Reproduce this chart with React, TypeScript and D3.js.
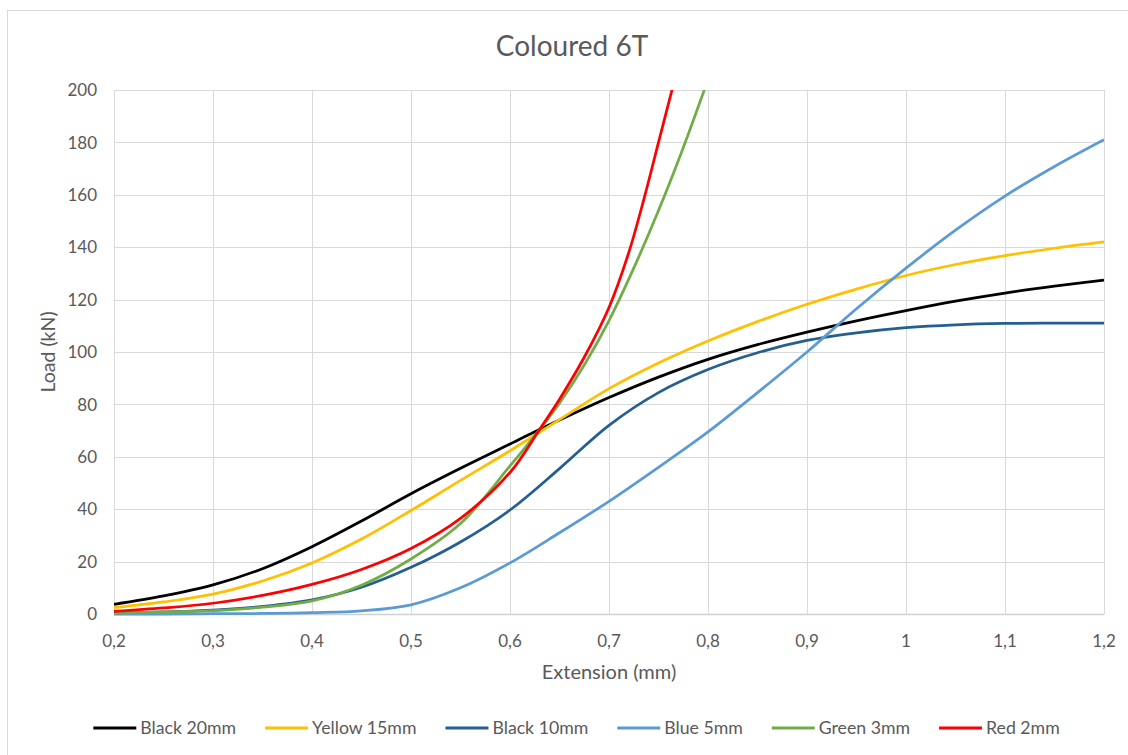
import React, { useRef, useEffect } from "react";
import * as d3 from "d3";

// sample extensions (mm) shared by the four slower curves
const extCommon = [
  0.2, 0.25, 0.3, 0.35, 0.4, 0.45, 0.5, 0.55, 0.6, 0.65, 0.7, 0.75, 0.8, 0.85,
  0.9, 0.95, 1.0, 1.05, 1.1, 1.15, 1.2,
];
const loadBlack20 = [
  3.7, 6.9, 11.1, 17.3, 25.7, 35.5, 45.9, 55.6, 64.9, 74, 82.6, 90.4, 97.2,
  102.8, 107.6, 111.9, 115.8, 119.4, 122.5, 125.1, 127.4,
];
const loadYellow15 = [
  2.4, 4.6, 7.6, 12.6, 19.5, 28.6, 39.5, 51, 62.3, 74.2, 86, 95.8, 104.2, 111.6,
  118.2, 124, 129.2, 133.4, 136.8, 139.6, 142,
];
const loadBlack10 = [
  0.3, 0.8, 1.5, 2.9, 5.4, 10.2, 17.8, 27.5, 39.7, 55.5, 72, 84.5, 93.3, 99.7,
  104.4, 107.3, 109.3, 110.4, 110.9, 111, 111,
];
const loadBlue5 = [
  0, 0, 0.1, 0.2, 0.5, 1.2, 3.5, 10, 19.5, 31, 43, 56, 69.5, 84.5, 100, 116.5,
  132, 146.5, 159.5, 170.8, 181,
];

// the two stiff samples run off the top of the chart
const extGreen3 = [
  0.2, 0.25, 0.3, 0.35, 0.4, 0.45, 0.5, 0.55, 0.6, 0.63, 0.65, 0.675, 0.7,
  0.725, 0.75, 0.775, 0.8,
];
const loadGreen3 = [
  0.3, 0.8, 1.3, 2.6, 5, 11, 21, 34.5, 56.5, 70.5, 80.5, 95, 112, 132, 154, 178,
  204,
];
const extRed2 = [
  0.2, 0.25, 0.3, 0.35, 0.4, 0.45, 0.5, 0.55, 0.6, 0.63, 0.65, 0.675, 0.7,
  0.72, 0.735, 0.75, 0.765,
];
const loadRed2 = [
  1.0, 2.3, 4.1, 7.1, 11.3, 17, 25, 36.5, 54, 70.5, 82, 98, 117, 138, 158, 180,
  202,
];

const seriesNames = [
  "Black 20mm",
  "Yellow 15mm",
  "Black 10mm",
  "Blue 5mm",
  "Green 3mm",
  "Red 2mm",
];
const seriesColors = ["#000000", "#FFC000", "#255E91", "#5B9BD5", "#70AD47", "#FF0000"];

const xTicks = [0.2, 0.3, 0.4, 0.5, 0.6, 0.7, 0.8, 0.9, 1, 1.1, 1.2];
const yTicks = [0, 20, 40, 60, 80, 100, 120, 140, 160, 180, 200];

const App = () => {
  const svgRef = useRef<SVGSVGElement>(null);

  useEffect(() => {
    const svg = d3.select(svgRef.current);
    svg.selectAll("*").remove();

    const plot = { left: 114, right: 1104, top: 90, bottom: 614 };
    const font = "Lato, 'Open Sans', sans-serif";
    const textGrey = "#595959";
    const gridGrey = "#d9d9d9";

    const x = d3.scaleLinear().domain([0.2, 1.2]).range([plot.left, plot.right]);
    const y = d3.scaleLinear().domain([0, 200]).range([plot.bottom, plot.top]);

    svg
      .append("rect")
      .attr("x", 7.5)
      .attr("y", 10.5)
      .attr("width", 1135)
      .attr("height", 760)
      .attr("fill", "white")
      .attr("stroke", gridGrey);

    // grid
    svg
      .append("g")
      .selectAll("line")
      .data(yTicks.slice(1))
      .join("line")
      .attr("x1", plot.left)
      .attr("x2", plot.right)
      .attr("y1", (d) => Math.round(y(d)) + 0.5)
      .attr("y2", (d) => Math.round(y(d)) + 0.5)
      .attr("stroke", gridGrey);
    svg
      .append("g")
      .selectAll("line")
      .data(xTicks)
      .join("line")
      .attr("x1", (d) => Math.round(x(d)) + 0.5)
      .attr("x2", (d) => Math.round(x(d)) + 0.5)
      .attr("y1", plot.top)
      .attr("y2", plot.bottom)
      .attr("stroke", gridGrey);
    svg
      .append("line")
      .attr("x1", plot.left)
      .attr("x2", plot.right)
      .attr("y1", y(0) + 0.5)
      .attr("y2", y(0) + 0.5)
      .attr("stroke", "#d0d0d0")
      .attr("stroke-width", 1.5);

    // tick labels
    svg
      .append("g")
      .selectAll("text")
      .data(yTicks)
      .join("text")
      .attr("x", plot.left - 17)
      .attr("y", (d) => y(d))
      .attr("dy", "0.36em")
      .attr("text-anchor", "end")
      .style("font-family", font)
      .style("font-size", "17px")
      .style("fill", textGrey)
      .text((d) => d);
    svg
      .append("g")
      .selectAll("text")
      .data(xTicks)
      .join("text")
      .attr("x", (d) => x(d))
      .attr("y", plot.bottom + 33)
      .attr("text-anchor", "middle")
      .style("font-family", font)
      .style("font-size", "17px")
      .style("fill", textGrey)
      .text((d) => String(d).replace(".", ","));

    // titles
    svg
      .append("text")
      .attr("x", 572)
      .attr("y", 56)
      .attr("text-anchor", "middle")
      .style("font-family", font)
      .style("font-size", "28px")
      .style("fill", textGrey)
      .text("Coloured 6T");
    svg
      .append("text")
      .attr("x", (plot.left + plot.right) / 2)
      .attr("y", 679)
      .attr("text-anchor", "middle")
      .style("font-family", font)
      .style("font-size", "20px")
      .style("fill", textGrey)
      .text("Extension (mm)");
    svg
      .append("text")
      .attr("transform", `translate(55,${(plot.top + plot.bottom) / 2}) rotate(-90)`)
      .attr("text-anchor", "middle")
      .style("font-family", font)
      .style("font-size", "19.5px")
      .style("fill", textGrey)
      .text("Load (kN)");

    // curves
    svg
      .append("clipPath")
      .attr("id", "plot-clip")
      .append("rect")
      .attr("x", plot.left)
      .attr("y", plot.top)
      .attr("width", plot.right - plot.left)
      .attr("height", plot.bottom - plot.top + 3);

    const series = [
      { xs: extCommon, ys: loadBlack20 },
      { xs: extCommon, ys: loadYellow15 },
      { xs: extCommon, ys: loadBlack10 },
      { xs: extCommon, ys: loadBlue5 },
      { xs: extGreen3, ys: loadGreen3 },
      { xs: extRed2, ys: loadRed2 },
    ];

    const line = d3
      .line<[number, number]>()
      .x((d) => x(d[0]))
      .y((d) => y(d[1]))
      .curve(d3.curveCatmullRom.alpha(0.5));

    const curves = svg.append("g").attr("clip-path", "url(#plot-clip)");
    series.forEach((s, i) => {
      curves
        .append("path")
        .datum(s.xs.map((v, j) => [v, s.ys[j]] as [number, number]))
        .attr("fill", "none")
        .attr("stroke", seriesColors[i])
        .attr("stroke-width", 2.75)
        .attr("stroke-linejoin", "round")
        .attr("d", line);
    });

    // legend
    const legend = svg.append("g");
    const items = seriesNames.map((name, i) => {
      const g = legend.append("g");
      g.append("line")
        .attr("x1", 0)
        .attr("x2", 43)
        .attr("y1", 0)
        .attr("y2", 0)
        .attr("stroke", seriesColors[i])
        .attr("stroke-width", 3);
      const t = g
        .append("text")
        .attr("x", 47)
        .attr("dy", "0.36em")
        .style("font-family", font)
        .style("font-size", "17.7px")
        .style("fill", textGrey)
        .text(name);
      const w = 47 + (t.node() as SVGTextElement).getComputedTextLength();
      return { g, w };
    });
    const gap = 29;
    const total = d3.sum(items, (d) => d.w) + gap * (items.length - 1);
    let cx = 576.5 - total / 2;
    items.forEach((it) => {
      it.g.attr("transform", `translate(${cx},728)`);
      cx += it.w + gap;
    });
  }, []);

  return (
    <svg
      ref={svgRef}
      width={1128}
      height={755}
      style={{ position: "absolute", left: 0, top: 0 }}
    ></svg>
  );
};

export default App;
